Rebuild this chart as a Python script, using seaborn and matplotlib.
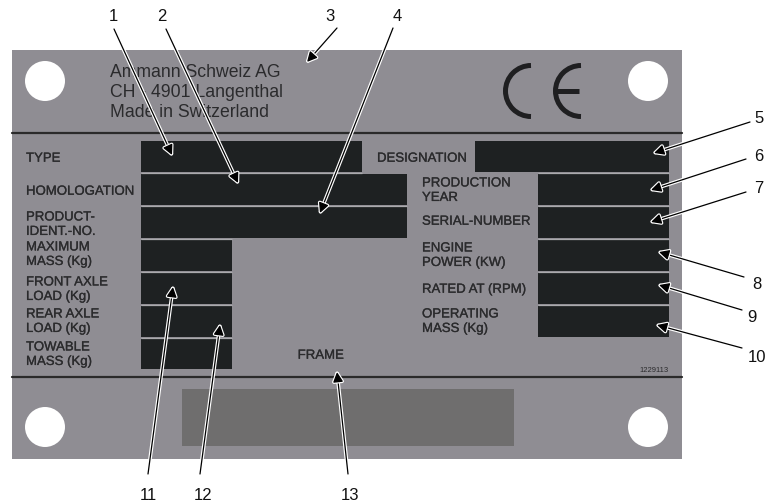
import matplotlib.pyplot as plt
import matplotlib.patches as mpatches
import matplotlib.patheffects as pe
import seaborn as sns

# --- content of the plate ---
header_lines = ['Ammann Schweiz AG', 'CH - 4901 Langenthal', 'Made in Switzerland']
left_labels = ['TYPE', 'HOMOLOGATION', 'PRODUCT-\nIDENT.-NO.', 'MAXIMUM\nMASS (Kg)',
               'FRONT AXLE\nLOAD (Kg)', 'REAR AXLE\nLOAD (Kg)', 'TOWABLE\nMASS (Kg)']
right_labels = ['DESIGNATION', 'PRODUCTION\nYEAR', 'SERIAL-NUMBER', 'ENGINE\nPOWER (KW)',
                'RATED AT (RPM)', 'OPERATING\nMASS (Kg)']
frame_label = 'FRAME'
plate_code = '1229113'
callouts = ['1', '2', '3', '4', '5', '6', '7', '8', '9', '10', '11', '12', '13']

# --- layout (pixel coordinates, y downwards) ---
left_label_y = [157, 190, 223, 253, 288, 320, 353]
right_label_x = [377, 422, 422, 422, 422, 422]
right_label_y = [157, 189, 220, 254, 288, 320]
# boxes: x0, x1, y0, y1
boxes = [(141, 362, 141, 172), (475, 669, 141, 172),
         (141, 407, 174, 205), (141, 407, 206.5, 237.5),
         (538, 669, 174, 205), (538, 669, 206.5, 237.5),
         (538, 669, 239.5, 271), (538, 669, 272.5, 304), (538, 669, 305.5, 337),
         (141, 232, 239.5, 271), (141, 232, 272.5, 304), (141, 232, 305.5, 337),
         (141, 232, 338.5, 369)]
# light seams between stacked boxes: y, x0, x1
seams = [(173, 141, 362), (173, 538, 669), (205.7, 141, 407), (205.7, 538, 669),
         (238.5, 141, 232), (238.5, 538, 669), (271.7, 141, 232), (271.7, 538, 669),
         (304.7, 141, 232), (304.7, 538, 669), (337.7, 141, 232)]
holes = [(45, 81), (648, 81), (45, 427), (648, 427)]
num_pos = [(113, 15), (162, 15), (330, 15), (397, 15), (759, 117), (759, 155),
           (759, 187), (757, 283), (752, 316), (757, 356), (148, 494), (203, 494),
           (350, 494)]
arrow_start = [(114, 29), (166, 29), (337, 28), (393, 28), (750, 122), (746, 159),
               (746, 192), (744, 277), (742, 310), (742, 348), (148, 474), (200, 474),
               (348, 474)]
arrow_tip = [(172, 155), (238, 183), (307, 62), (320, 213), (654, 153), (651, 190),
             (651, 222), (659, 252), (659, 285), (657, 325), (173, 287), (220, 325),
             (337, 372)]

plate_col = '#8f8d93'
box_col = '#1e2122'
seam_col = '#aaaaad'
text_col = '#2b2b2d'
heavier = [pe.withStroke(linewidth=0.2, foreground=text_col)]

sns.set_theme(style='white')
plt.rcParams['font.family'] = ['Liberation Sans', 'DejaVu Sans']

fig = plt.figure(figsize=(7.68, 5.04), dpi=100)
ax = fig.add_axes([0, 0, 1, 1])
ax.set_xlim(0, 768)
ax.set_ylim(504, 0)
ax.axis('off')

# plate
ax.add_patch(mpatches.Rectangle((12, 50), 670, 409, facecolor=plate_col, edgecolor='none'))
ax.plot([12, 682], [133, 133], color='#2a2a2a', lw=1.6)
ax.plot([12, 682], [377, 377], color='#2a2a2a', lw=1.6)
ax.add_patch(mpatches.Rectangle((182, 389), 332, 57, facecolor='#6f6e6e', edgecolor='none'))

for hx, hy in holes:
    ax.add_patch(mpatches.Circle((hx, hy), 20, facecolor='white', edgecolor='none'))

for x0, x1, y0, y1 in boxes:
    ax.add_patch(mpatches.Rectangle((x0, y0), x1 - x0, y1 - y0,
                                    facecolor=box_col, edgecolor='none'))
for sy, sx0, sx1 in seams:
    ax.plot([sx0, sx1], [sy, sy], color=seam_col, lw=0.9, solid_capstyle='butt')

# header
for i, line in enumerate(header_lines):
    ax.text(110, 71 + 20 * i + 6.3, line, fontsize=12.7, color=text_col, va='baseline')

# CE mark
ce_col = '#1f1f21'
ax.add_patch(mpatches.Arc((531, 91), 51, 51, theta1=90, theta2=270, color=ce_col, lw=3.6))
ax.add_patch(mpatches.Arc((581, 91), 51, 51, theta1=90, theta2=270, color=ce_col, lw=3.6))
ax.plot([556, 579], [91, 91], color=ce_col, lw=3.6, solid_capstyle='butt')

# field labels
def put_label(x, yc, txt):
    lines = txt.split('\n')
    n = len(lines)
    for k, ln in enumerate(lines):
        y = yc + (k - (n - 1) / 2) * 14.5 + 4.7
        ax.text(x, y, ln, fontsize=9.5, color=text_col, va='baseline', path_effects=heavier)

for txt, y in zip(left_labels, left_label_y):
    put_label(26, y, txt)
for txt, x, y in zip(right_labels, right_label_x, right_label_y):
    put_label(x, y, txt)

ax.text(321, 354 + 4.7, frame_label, fontsize=9.5, color=text_col, ha='center',
        va='baseline', path_effects=heavier)
ax.text(669, 369 + 2.5, plate_code, fontsize=5.5, color=text_col, ha='right', va='baseline')

# callouts
for lab, (nx, ny), s, t in zip(callouts, num_pos, arrow_start, arrow_tip):
    ax.text(nx, ny + 6, lab, fontsize=12, color='#111111', ha='center', va='baseline')
    ax.annotate('', xy=t, xytext=s,
                arrowprops=dict(arrowstyle='-|>', color='black', lw=0.9,
                                mutation_scale=15, shrinkA=0, shrinkB=0,
                                path_effects=[pe.withStroke(linewidth=2.6, foreground='white')]))

fig.savefig('out.png', dpi=100, facecolor='white')
